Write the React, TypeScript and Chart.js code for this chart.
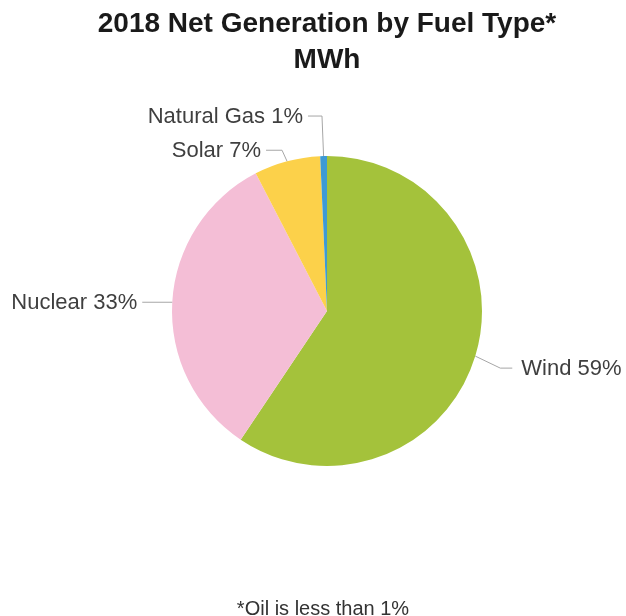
import React, { useEffect, useRef } from "react";
import { Chart, registerables } from "chart.js";

Chart.register(...registerables);

const categories: string[] = ["Wind", "Nuclear", "Solar", "Natural Gas"];
const shares: number[] = [59.4, 33.0, 6.9, 0.7];
const colors: string[] = ["#A4C23B", "#F4BED6", "#FCD14A", "#3D9AD5"];
const titleLines: string[] = ["2018 Net Generation by Fuel Type*", "MWh"];
const footnote = "*Oil is less than 1%";

// leader-line layout per slice (style only): elbow offset from slice edge, horizontal run, side, text gap
const leaderLayout = [
  { dx: 25, dy: 12, run: 12, side: 1, gap: 9 },
  { dx: 0, dy: 0, run: 30, side: -1, gap: 5 },
  { dx: -5, dy: -11, run: 16, side: -1, gap: 5 },
  { dx: -1.6, dy: -40, run: 14, side: -1, gap: 5 },
];

const FONT = '"Liberation Sans", Arial, sans-serif';

const labelPlugin = {
  id: "pieLabels",
  afterDraw(chart: any) {
    const ctx = chart.ctx;
    const meta = chart.getDatasetMeta(0);
    const data = chart.data.datasets[0].data as number[];
    const total = data.reduce((a, b) => a + b, 0);
    ctx.save();
    meta.data.forEach((arc: any, i: number) => {
      const { x, y, startAngle, endAngle, outerRadius } = arc.getProps(
        ["x", "y", "startAngle", "endAngle", "outerRadius"],
        true
      );
      const mid = (startAngle + endAngle) / 2;
      const ex = x + Math.cos(mid) * outerRadius;
      const ey = y + Math.sin(mid) * outerRadius;
      const lay = leaderLayout[i];
      const bx = ex + lay.dx;
      const by = ey + lay.dy;
      const hx = bx + lay.side * lay.run;
      ctx.strokeStyle = "#A6A6A6";
      ctx.lineWidth = 1;
      ctx.beginPath();
      ctx.moveTo(ex, ey);
      ctx.lineTo(bx, by);
      ctx.lineTo(hx, by);
      ctx.stroke();
      const pct = Math.round((data[i] / total) * 100);
      const text = `${chart.data.labels[i]} ${pct}%`;
      ctx.font = `22px ${FONT}`;
      ctx.fillStyle = "#3F3F3F";
      ctx.textBaseline = "middle";
      ctx.textAlign = lay.side > 0 ? "left" : "right";
      ctx.fillText(text, hx + lay.side * lay.gap, by + 1);
    });
    // title
    ctx.fillStyle = "#1A1A1A";
    ctx.textAlign = "center";
    ctx.textBaseline = "alphabetic";
    ctx.font = `bold 28px ${FONT}`;
    ctx.fillText(titleLines[0], 327, 32);
    ctx.fillText(titleLines[1], 327, 68);
    // footnote
    ctx.fillStyle = "#333333";
    ctx.font = `20px ${FONT}`;
    ctx.fillText(footnote, 323, 615);
    ctx.restore();
  },
};

export default function App() {
  const ref = useRef<HTMLCanvasElement | null>(null);
  useEffect(() => {
    if (!ref.current) return;
    const chart = new Chart(ref.current, {
      type: "pie",
      data: {
        labels: categories,
        datasets: [
          {
            data: shares,
            backgroundColor: colors,
            borderWidth: 0,
            hoverOffset: 0,
          },
        ],
      },
      options: {
        animation: false,
        responsive: true,
        maintainAspectRatio: false,
        radius: 155,
        layout: { padding: { top: 156, bottom: 150, left: 172, right: 144 } },
        plugins: {
          legend: { display: false },
          tooltip: { enabled: false },
          title: { display: false },
        },
      } as any,
      plugins: [labelPlugin],
    });
    return () => chart.destroy();
  }, []);
  return (
    <div
      style={{
        position: "fixed",
        top: 0,
        left: 0,
        width: 626,
        height: 616,
        background: "#ffffff",
      }}
    >
      <canvas ref={ref} />
    </div>
  );
}
